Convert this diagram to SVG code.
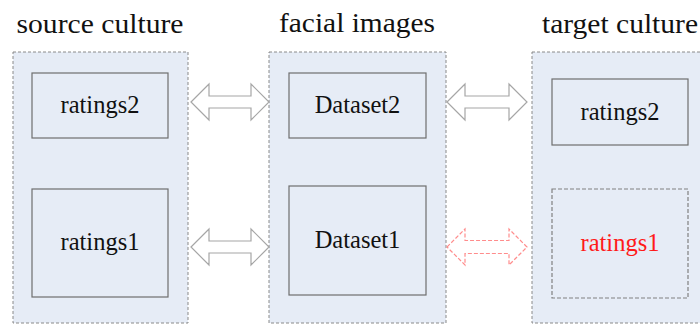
<svg xmlns="http://www.w3.org/2000/svg" width="700" height="325" viewBox="0 0 700 325">
<style>
.cont{fill:#e6ecf6;stroke:#8a8a8a;stroke-width:1;stroke-dasharray:3 2}
.box{fill:#e6ecf6;stroke:#6e6e6e;stroke-width:1.2}
.dbox{fill:#e6ecf6;stroke:#808080;stroke-width:1.2;stroke-dasharray:4 2}
text{font-family:'Liberation Serif','Times New Roman',serif}
.title{font-size:27px;fill:#111;text-anchor:middle}
.lbl{font-size:24.5px;fill:#111;text-anchor:middle}
.red{fill:#ff1a1a}
.arr{fill:#fff;stroke:#a6a6a6;stroke-width:1.2}
.rarr{fill:#fff;stroke:#ff8c8c;stroke-width:1.2;stroke-dasharray:4 2}
</style>
<rect width="700" height="325" fill="#fff"/>
<g id="source">
<rect class="cont" x="13" y="52" width="175" height="271"/>
<text class="title" x="100" y="33" textLength="167" lengthAdjust="spacingAndGlyphs">source culture</text>
</g>
<g id="source-ratings2"><rect class="box" x="32" y="73" width="136" height="65"/><text class="lbl" x="100" y="113">ratings2</text></g>
<g id="source-ratings1"><rect class="box" x="32" y="189" width="136" height="108"/><text class="lbl" x="100" y="250">ratings1</text></g>
<g id="facial">
<rect class="cont" x="269" y="52" width="177" height="271"/>
<text class="title" x="357" y="32" textLength="156" lengthAdjust="spacingAndGlyphs">facial images</text>
</g>
<g id="dataset2"><rect class="box" x="289" y="73" width="137" height="65"/><text class="lbl" x="357.5" y="113">Dataset2</text></g>
<g id="dataset1"><rect class="box" x="289" y="186" width="137" height="109"/><text class="lbl" x="357.5" y="248">Dataset1</text></g>
<g id="target">
<rect class="cont" x="532" y="52" width="175" height="271"/>
<text class="title" x="620" y="33" textLength="156" lengthAdjust="spacingAndGlyphs">target culture</text>
</g>
<g id="target-ratings2"><rect class="box" x="552" y="79" width="136" height="66"/><text class="lbl" x="620" y="120">ratings2</text></g>
<g id="target-ratings1"><rect class="dbox" x="552" y="189" width="136" height="109"/><text class="lbl red" x="620" y="251">ratings1</text></g>
<g id="connectors">
<path class="arr" d="M191,102 L209,84 L209,96 L251,96 L251,84 L269,102 L251,120 L251,108 L209,108 L209,120 Z"/>
<path class="arr" d="M191,247 L209,229 L209,241 L251,241 L251,229 L269,247 L251,265 L251,253 L209,253 L209,265 Z"/>
<path class="arr" d="M447,102 L465,84 L465,96 L509,96 L509,84 L527,102 L509,120 L509,108 L465,108 L465,120 Z"/>
<path class="rarr" d="M447,247 L465,229 L465,240.5 L509,240.5 L509,229 L527,247 L509,265 L509,253.5 L465,253.5 L465,265 Z"/>
</g>
</svg>
